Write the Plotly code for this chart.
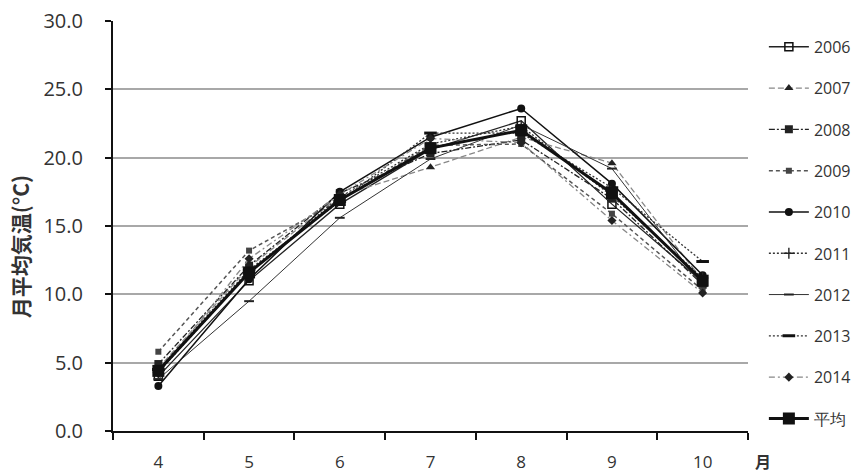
import plotly.graph_objects as go

# Months (April to October)
months = [4, 5, 6, 7, 8, 9, 10]

# Monthly mean air temperature (°C) per year
t2006 = [4.0, 11.0, 16.6, 20.6, 22.7, 16.6, 10.9]
t2007 = [4.6, 12.0, 17.2, 19.3, 21.5, 19.6, 11.0]
t2008 = [4.9, 12.1, 17.4, 20.3, 21.3, 17.0, 10.7]
t2009 = [5.8, 13.2, 16.9, 20.9, 21.0, 15.9, 10.3]
t2010 = [3.3, 11.1, 17.5, 21.5, 23.6, 18.1, 11.4]
t2011 = [4.3, 11.6, 17.1, 21.0, 22.3, 17.2, 11.2]
t2012 = [3.8, 9.5, 15.6, 19.9, 22.4, 19.2, 10.6]
t2013 = [4.5, 11.8, 16.8, 21.8, 21.8, 17.8, 12.4]
t2014 = [4.2, 12.6, 17.3, 21.4, 21.1, 15.4, 10.1]
t_mean = [4.4, 11.6, 16.9, 20.7, 22.0, 17.4, 11.0]

y_ticks = [0, 5, 10, 15, 20, 25, 30]

FONT = "Open Sans"
CJK = "Noto Sans CJK JP"
TXT = "#333333"

series = [
    ("2006", t2006, dict(color="#222", width=1.3, dash="solid"),
     dict(symbol="square-open", size=8, color="#111", line=dict(width=1.5, color="#111"))),
    ("2007", t2007, dict(color="#888", width=1.3, dash="6px,3px"),
     dict(symbol="triangle-up", size=8, color="#222")),
    ("2008", t2008, dict(color="#222", width=1.3, dash="6px,2px,2px,2px"),
     dict(symbol="square", size=8, color="#222")),
    ("2009", t2009, dict(color="#555", width=1.5, dash="4px,3px"),
     dict(symbol="square", size=6, color="#444")),
    ("2010", t2010, dict(color="#111", width=1.5, dash="solid"),
     dict(symbol="circle", size=8, color="#111")),
    ("2011", t2011, dict(color="#333", width=1.3, dash="2px,2px"),
     dict(symbol="cross-thin", size=8, color="#222", line=dict(width=1.4, color="#222"))),
    ("2012", t2012, dict(color="#333", width=1.0, dash="solid"),
     dict(symbol="line-ew", size=7, color="#222", line=dict(width=2, color="#222"))),
    ("2013", t2013, dict(color="#333", width=1.3, dash="2px,2px"),
     dict(symbol="line-ew", size=9, color="#111", line=dict(width=3, color="#111"))),
    ("2014", t2014, dict(color="#888", width=1.3, dash="6px,3px,2px,3px"),
     dict(symbol="diamond", size=7, color="#222")),
    ("平均", t_mean, dict(color="#111", width=3, dash="solid"),
     dict(symbol="square", size=12, color="#111")),
]

fig = go.Figure()
for name, vals, line, marker in series:
    fig.add_trace(go.Scatter(
        x=months, y=vals, name=name, mode="lines+markers",
        line=line, marker=marker, legendgroup=name,
    ))

fig.update_layout(
    width=864, height=474,
    margin=dict(l=113, r=116, t=21, b=43, autoexpand=False),
    plot_bgcolor="white", paper_bgcolor="white",
    font=dict(family=FONT, color=TXT),
    showlegend=True,
    legend=dict(
        x=1.025, xanchor="left", y=0.937, yref="container", yanchor="top",
        font=dict(family=FONT, size=16, color=TXT),
        tracegroupgap=17.5, itemwidth=40, bgcolor="rgba(0,0,0,0)",
        maxheight=1,
    ),
    xaxis=dict(
        range=[3.5, 10.5], tickvals=months, ticktext=[str(m) for m in months],
        ticks="", showgrid=False, zeroline=False, automargin=False,
        showline=True, linecolor="#111", linewidth=2,
        tickfont=dict(family=FONT, size=17, color=TXT),
        ticklabelstandoff=15,
        minor=dict(ticks="outside", tick0=3.5, dtick=1, ticklen=7,
                   tickwidth=2, tickcolor="#111", showgrid=False),
    ),
    yaxis=dict(
        range=[0, 30], tickvals=y_ticks, tickformat=".1f",
        ticks="outside", ticklen=6, tickwidth=1.5, tickcolor="#111",
        showgrid=True, gridcolor="#a8a8a8", gridwidth=2,
        zeroline=False, showline=True, linecolor="#111", linewidth=2,
        automargin=False,
        tickfont=dict(family=FONT, size=20, color=TXT),
        ticklabelstandoff=18,
    ),
    annotations=[
        dict(x=-0.146, y=0.449, xref="paper", yref="paper",
             xanchor="center", yanchor="middle",
             text="<b>月平均気温(°C)</b>", textangle=-90, showarrow=False,
             font=dict(family=CJK, size=21, color=TXT)),
        dict(x=1.0236, y=-0.072, xref="paper", yref="paper", text="<b>月</b>",
             xanchor="center", yanchor="middle",
             showarrow=False, font=dict(family=CJK, size=16, color=TXT)),
    ],
)

fig.write_html("out.html")
